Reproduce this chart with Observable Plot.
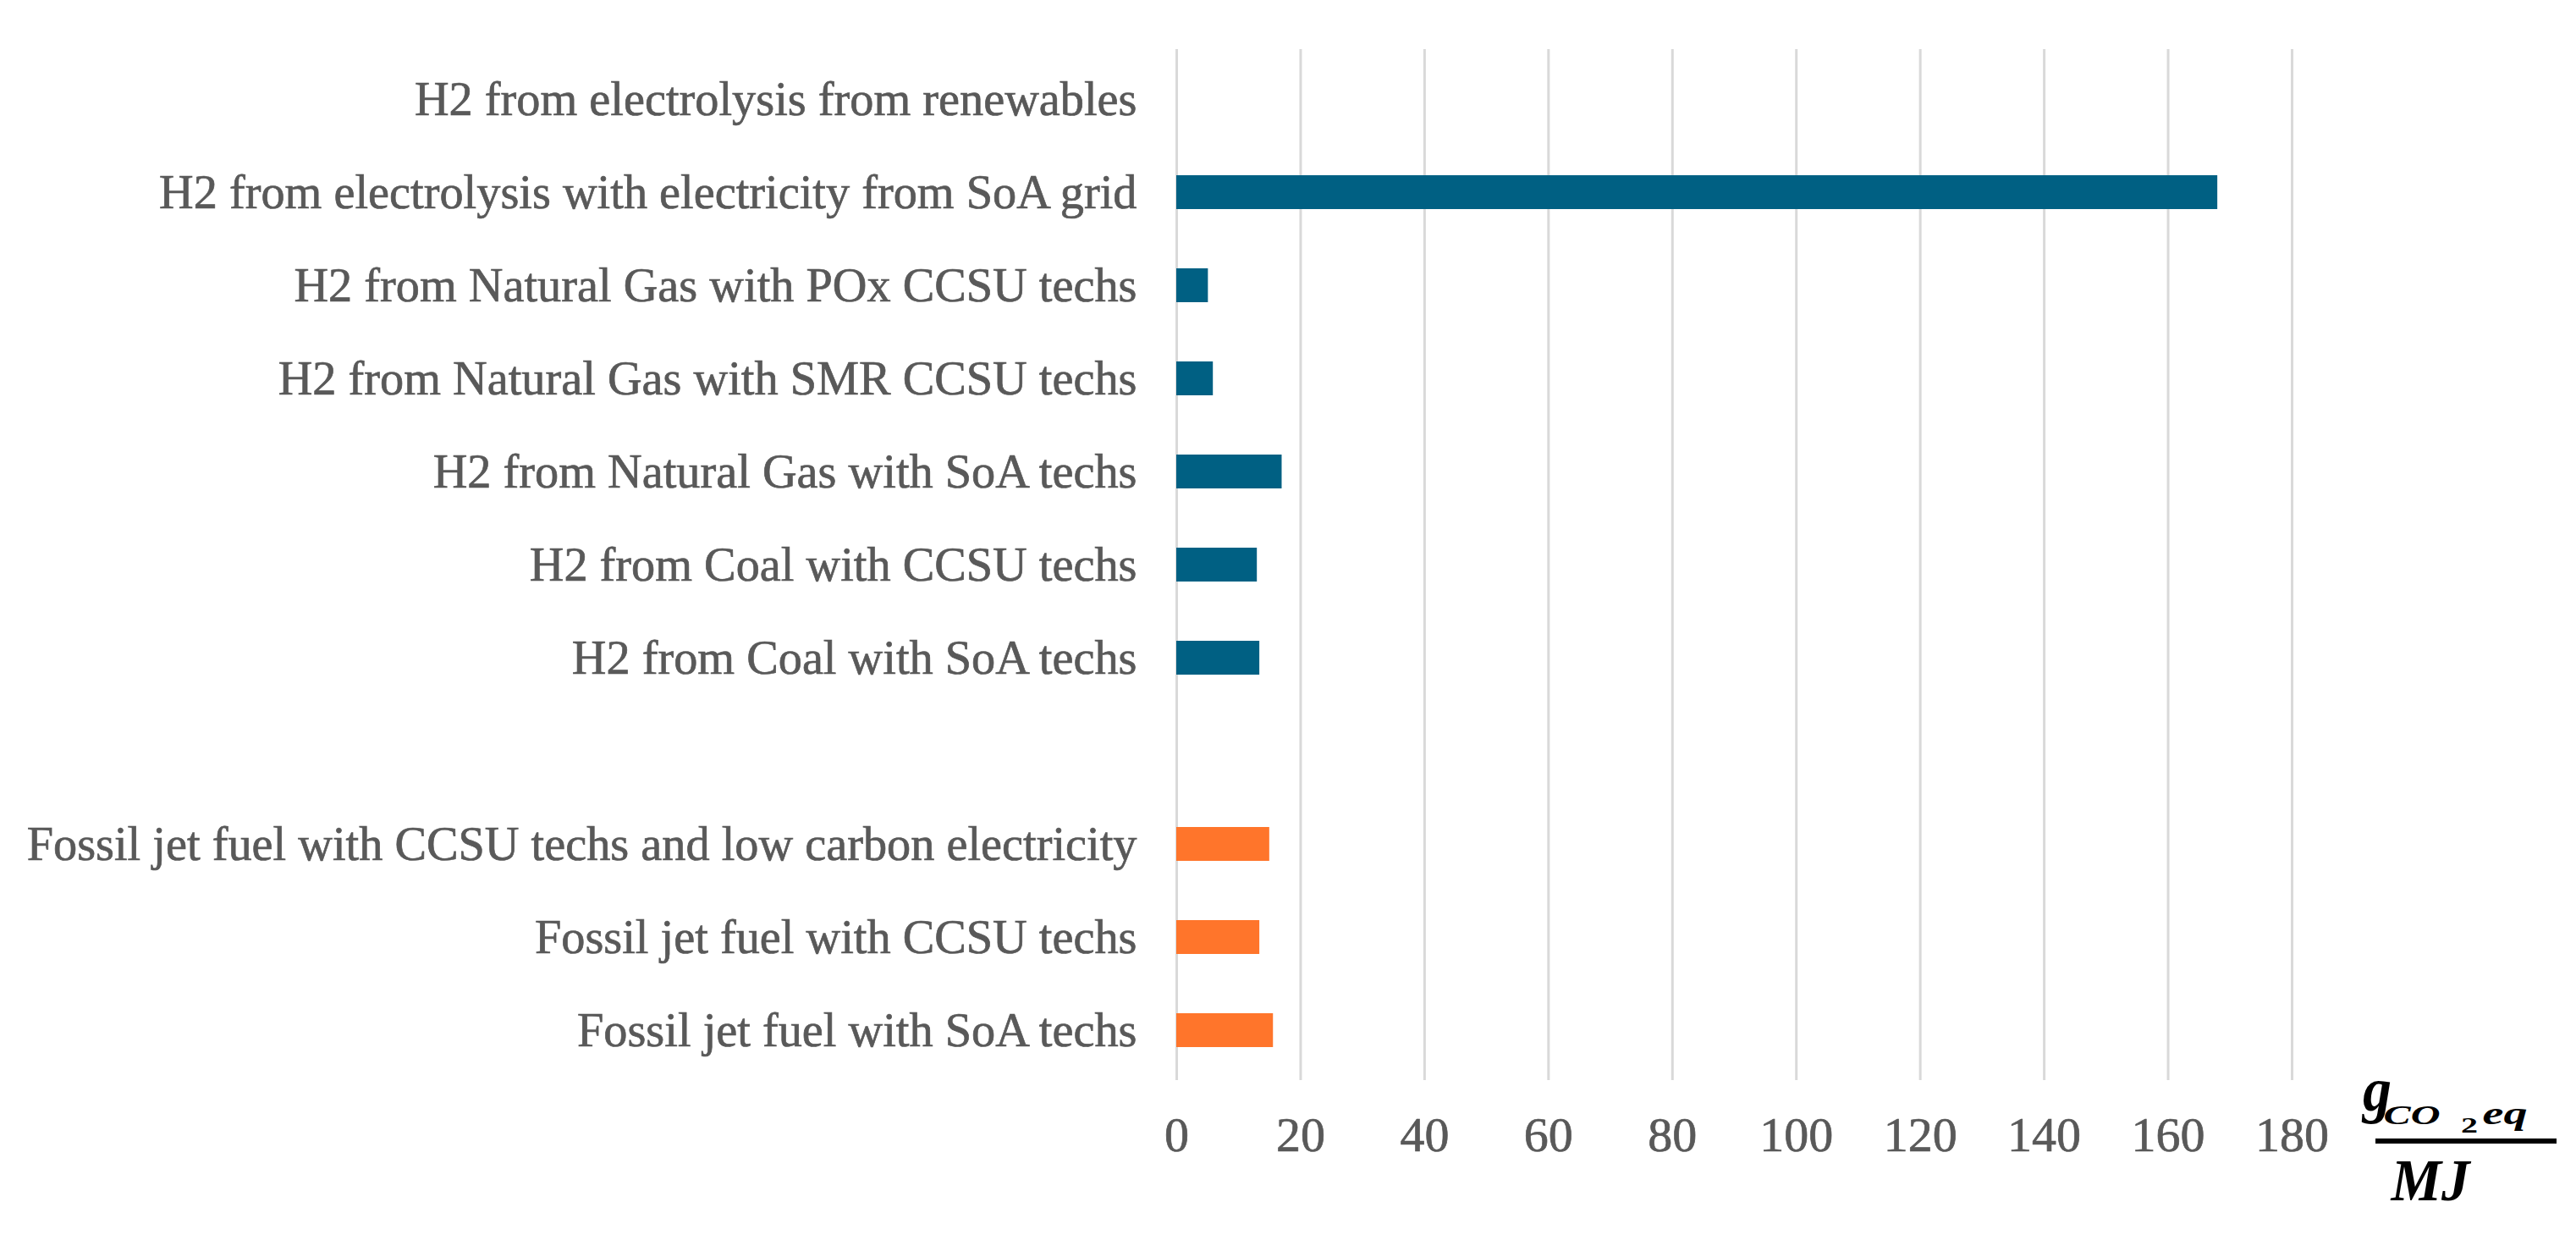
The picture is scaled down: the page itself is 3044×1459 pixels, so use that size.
<!DOCTYPE html>
<html>
<head>
<meta charset="utf-8">
<script src="https://cdn.jsdelivr.net/npm/d3@7"></script>
<script src="https://cdn.jsdelivr.net/npm/@observablehq/plot@0.6"></script>
<style>
  html, body { margin: 0; padding: 0; background: #ffffff; }
  #chart svg { display: block; }
  #chart g[aria-label="y-axis tick label"] text,
  #chart g[aria-label="x-axis tick label"] text { stroke: #595959; stroke-width: 0.7px; }
</style>
</head>
<body>
<div id="chart"></div>
<script>
// Categories, top to bottom (the blank one is the gap between groups)
const categories = [
  "H2 from electrolysis from renewables",
  "H2 from electrolysis with electricity from SoA grid",
  "H2 from Natural Gas with POx CCSU techs",
  "H2 from Natural Gas with SMR CCSU techs",
  "H2 from Natural Gas with SoA techs",
  "H2 from Coal with CCSU techs",
  "H2 from Coal with SoA techs",
  " ",
  "Fossil jet fuel with CCSU techs and low carbon electricity",
  "Fossil jet fuel with CCSU techs",
  "Fossil jet fuel with SoA techs"
];
// gCO2eq / MJ
const values = [0, 168, 5.1, 5.9, 17.0, 13.0, 13.4, null, 15.0, 13.4, 15.6];
const groups = ["H2", "H2", "H2", "H2", "H2", "H2", "H2", null, "Fossil", "Fossil", "Fossil"];
const xTicks = [0, 20, 40, 60, 80, 100, 120, 140, 160, 180];
const groupNames = ["H2", "Fossil"];
const groupColors = ["#006083", "#FF752B"];

const data = categories
  .map((c, i) => ({category: c, value: values[i], group: groups[i]}))
  .filter(d => d.value !== null);

const chart = Plot.plot({
  width: 3044,
  height: 1459,
  marginLeft: 1390,
  marginRight: 336,
  marginTop: 58,
  marginBottom: 183,
  style: {fontFamily: "'Liberation Serif', 'Times New Roman', serif", fontSize: "56px", color: "#595959", background: "#ffffff"},
  x: {domain: [0, 180], ticks: xTicks, label: null},
  y: {domain: categories, paddingInner: 0.64, paddingOuter: 0.32, label: null},
  color: {domain: groupNames, range: groupColors},
  marks: [
    Plot.gridX(xTicks, {stroke: "#D9D9D9", strokeWidth: 3, strokeOpacity: 1}),
    Plot.barX(data, {x: "value", y: "category", fill: "group"}),
    Plot.axisX({ticks: xTicks, tickSize: 0, tickPadding: 42, fontSize: 58, label: null}),
    Plot.axisY({tickSize: 0, tickPadding: 47, fontSize: 56.3, label: null})
  ]
});

document.getElementById("chart").appendChild(chart);

// Unit label (fraction gCO2eq / MJ) to the right of the x axis
const svg = d3.select(chart);
const u = svg.append("g")
  .attr("font-family", "'Liberation Serif', 'Times New Roman', serif")
  .attr("font-style", "italic")
  .attr("font-weight", "bold")
  .attr("fill", "#000000");
const num = u.append("text");
function piece(x, y, size, width, txt, upright) {
  const t = num.append("tspan")
    .attr("x", x).attr("y", y)
    .attr("font-size", size)
    .attr("textLength", width)
    .attr("lengthAdjust", "spacingAndGlyphs")
    .text(txt);
  if (upright) t.attr("font-style", "normal");
  return t;
}
piece(2809, 1312, 74, 34, "g");
piece(2850, 1328, 32, 67, "CO");
piece(2918, 1338, 26, 20, "2", true);
piece(2960, 1328, 38, 53, "eq");
u.append("rect").attr("x", 2807).attr("y", 1345).attr("width", 214).attr("height", 6);
u.append("text")
  .attr("x", 2872).attr("y", 1418)
  .attr("font-size", 70)
  .attr("textLength", 93)
  .attr("lengthAdjust", "spacingAndGlyphs")
  .text("MJ");
</script>
</body>
</html>
